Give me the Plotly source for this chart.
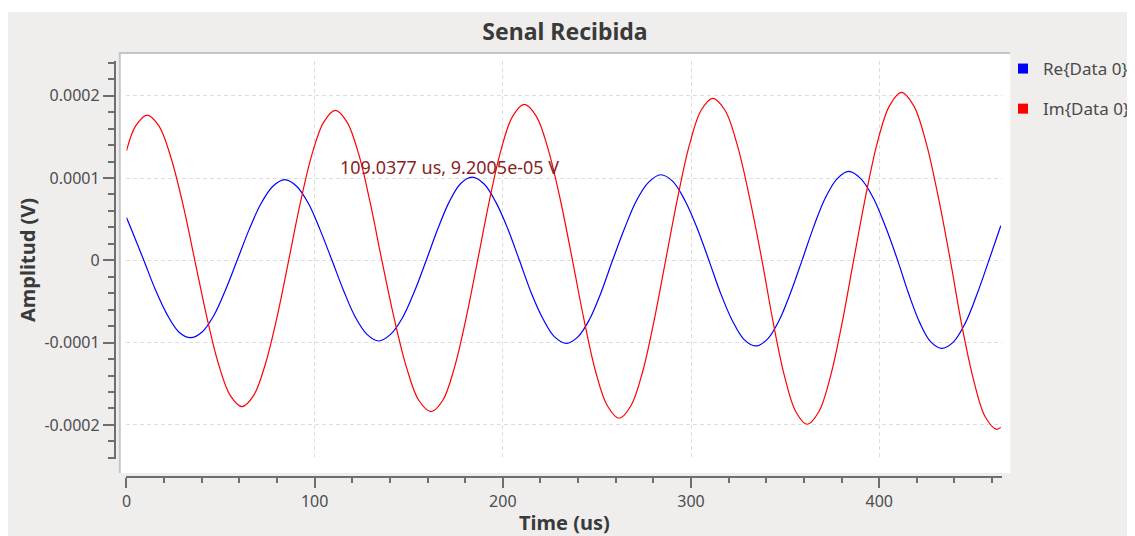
import plotly.graph_objects as go

# The page body has an 8px margin, so the figure is 8px smaller and all
# reference pixel positions are shifted by 8px.
OFF = 8
W, H = 1135 - OFF, 536 - OFF
FONT = "Noto Sans"


def px(x):
    return (x - OFF) / W


def py(y):
    return 1 - (y - OFF) / H


# ---- data (amplitudes in units of 1e-4 V) ----
time_re = [0.0, 2.9, 9.2, 15.4, 21.6, 27.8, 34.0, 40.2, 46.4, 52.6, 58.8,
           65.1, 71.5, 77.8, 84.1, 90.4, 96.7, 102.9, 109.2,
           115.4, 121.6, 127.8, 134.0, 140.3, 146.6, 153.0, 159.3,
           165.4, 171.5, 177.5, 183.6, 189.9, 196.2, 202.5, 208.8,
           215.0, 221.3, 227.5, 233.8, 239.9, 246.0, 252.2, 258.3,
           264.7, 271.1, 277.5, 283.9, 290.3, 296.7, 303.1, 309.5,
           315.7, 321.9, 328.1, 334.3, 340.5, 346.6, 352.8, 359.0,
           365.2, 371.4, 377.6, 383.8, 390.3, 396.8, 403.3, 409.8,
           415.7, 421.6, 427.4, 433.3, 439.5, 445.8, 452.0, 458.3, 464.6]
re_e4 = [0.52, 0.36, 0.0, -0.36, -0.66, -0.87, -0.94, -0.87, -0.67, -0.36, 0.0,
         0.37, 0.69, 0.90, 0.98, 0.90, 0.69, 0.37, 0.0,
         -0.37, -0.69, -0.90, -0.98, -0.90, -0.70, -0.38, 0.0,
         0.38, 0.71, 0.93, 1.01, 0.93, 0.71, 0.39, 0.0,
         -0.39, -0.71, -0.93, -1.01, -0.93, -0.72, -0.39, 0.0,
         0.39, 0.73, 0.95, 1.04, 0.96, 0.73, 0.40, 0.0,
         -0.40, -0.73, -0.96, -1.04, -0.96, -0.74, -0.40, 0.0,
         0.41, 0.76, 0.99, 1.08, 0.99, 0.76, 0.41, 0.0,
         -0.41, -0.76, -0.99, -1.07, -0.99, -0.76, -0.41, 0.0, 0.42]

time_im = [0.0, 4.8, 11.0, 17.3, 23.6, 30.0, 36.3, 42.6, 48.9, 55.1, 61.4,
           67.6, 73.8, 80.0, 86.2, 92.4, 98.6, 104.8, 111.0,
           117.2, 123.4, 129.5, 135.7, 142.2, 148.8, 155.3, 161.9,
           168.1, 174.3, 180.4, 186.6, 192.8, 199.0, 205.2, 211.4,
           217.8, 224.2, 230.6, 237.0, 243.2, 249.4, 255.6, 261.8,
           268.0, 274.2, 280.3, 286.5, 292.8, 299.0, 305.3, 311.6,
           318.1, 324.7, 331.2, 337.7, 343.7, 349.7, 355.7, 361.7,
           367.9, 374.1, 380.2, 386.4, 392.8, 399.1, 405.5, 411.8,
           418.3, 424.8, 431.3, 437.8, 443.9, 450.1, 456.3, 462.4, 464.6]
im_e4 = [1.33, 1.63, 1.765, 1.63, 1.25, 0.68, 0.0, -0.68, -1.26, -1.64, -1.777,
         -1.64, -1.26, -0.69, 0.0, 0.70, 1.29, 1.68, 1.822,
         1.68, 1.29, 0.70, 0.0, -0.70, -1.30, -1.70, -1.838,
         -1.70, -1.30, -0.71, 0.0, 0.72, 1.34, 1.75, 1.895,
         1.75, 1.34, 0.73, 0.0, -0.73, -1.36, -1.77, -1.919,
         -1.77, -1.36, -0.74, 0.0, 0.75, 1.39, 1.82, 1.968,
         1.82, 1.39, 0.75, 0.0, -0.76, -1.41, -1.84, -1.992,
         -1.84, -1.41, -0.77, 0.0, 0.78, 1.44, 1.88, 2.04,
         1.88, 1.44, 0.78, 0.0, -0.79, -1.45, -1.90, -2.053, -2.03]

series_names = ["Re{Data 0}", "Im{Data 0}"]
series_colors = ["#0000ff", "#ff0000"]

x_ticks = [0, 100, 200, 300, 400]
x_tick_labels = ["0", "100", "200", "300", "400"]
y_ticks = [-0.0002, -0.0001, 0, 0.0001, 0.0002]
y_tick_labels = ["-0.0002", "-0.0001", "0", "0.0001", "0.0002"]

title_text = "Senal Recibida"
x_title = "Time (us)"
y_title = "Amplitud (V)"
marker_text = "109.0377 us, 9.2005e-05 V"

# ---- figure ----
fig = go.Figure()

for t, vals, color in [(time_re, re_e4, series_colors[0]),
                       (time_im, im_e4, series_colors[1])]:
    fig.add_trace(go.Scatter(
        x=t, y=[v * 1e-4 for v in vals], mode="lines",
        line=dict(color=color, width=1.2, shape="spline", smoothing=1.0),
        showlegend=False, hoverinfo="skip"))

for name, color in zip(series_names, series_colors):
    fig.add_trace(go.Scatter(
        x=[None], y=[None], mode="markers", name=name, legendgroup=name,
        marker=dict(symbol="square", size=10, color=color)))

AX = "#6e6e6e"
TICKFONT = dict(family=FONT, size=16, color="#4d4d4d")

fig.update_layout(
    width=W, height=H, autosize=False,
    margin=dict(l=0, r=0, t=0, b=0),
    paper_bgcolor="white", plot_bgcolor="rgba(0,0,0,0)",
    title=dict(text=title_text, x=px(565), y=py(32), xanchor="center",
               yanchor="middle",
               font=dict(family=FONT, size=23, color="#3a3a3a", weight="bold")),
    xaxis=dict(domain=[px(126.7), px(1003.3)], range=[0, 465],
               anchor="free", position=py(477),
               showline=True, linecolor=AX, linewidth=2,
               ticks="outside", ticklen=10, tickwidth=1.5, tickcolor=AX,
               tickvals=x_ticks, ticktext=x_tick_labels, tickfont=TICKFONT,
               showgrid=True, gridcolor="#dddddd", gridwidth=1,
               griddash="4px,3px", zeroline=False, fixedrange=True,
               automargin=False,
               minor=dict(tick0=0, dtick=20, ticks="outside", ticklen=5,
                          tickwidth=1.5, tickcolor=AX, showgrid=False)),
    yaxis=dict(domain=[py(459), py(61)], range=[-2.414e-4, 2.422e-4],
               anchor="free", position=px(115),
               showline=True, linecolor=AX, linewidth=2,
               ticks="outside", ticklen=11, tickwidth=1.5, tickcolor=AX,
               tickvals=y_ticks, ticktext=y_tick_labels, tickfont=TICKFONT,
               showgrid=True, gridcolor="#dddddd", gridwidth=1,
               griddash="4px,3px", zeroline=False, fixedrange=True,
               automargin=False,
               minor=dict(tick0=0, dtick=0.00002, ticks="outside", ticklen=6,
                          tickwidth=1.5, tickcolor=AX, showgrid=False)),
    legend=dict(x=px(1005), y=py(51), xanchor="left", yanchor="top",
                bgcolor="rgba(0,0,0,0)", tracegroupgap=15,
                font=dict(family=FONT, size=17, color="#4a4a4a")),
    shapes=[
        dict(type="rect", xref="paper", yref="paper", x0=px(8), x1=1,
             y0=0, y1=py(12), fillcolor="#efeeed", line=dict(width=0),
             layer="below"),
        dict(type="rect", xref="paper", yref="paper", x0=px(119), x1=px(1012),
             y0=py(473), y1=py(52), fillcolor="white", line=dict(width=0),
             layer="below"),
        dict(type="line", xref="paper", yref="paper", x0=px(119), x1=px(1012),
             y0=py(53), y1=py(53), line=dict(color="#c6c6c6", width=2),
             layer="below"),
        dict(type="line", xref="paper", yref="paper", x0=px(120), x1=px(120),
             y0=py(473), y1=py(52), line=dict(color="#c6c6c6", width=2),
             layer="below"),
    ],
    annotations=[
        dict(text=marker_text, xref="paper", yref="paper", x=px(450),
             y=py(167), xanchor="center", yanchor="middle", showarrow=False,
             font=dict(family=FONT, size=18, color="#8b1f1f")),
        dict(text=x_title, xref="paper", yref="paper", x=px(565), y=py(522),
             xanchor="center", yanchor="middle", showarrow=False,
             font=dict(family=FONT, size=20, color="#3a3a3a", weight="bold")),
        dict(text=y_title, xref="paper", yref="paper", x=px(27), y=py(260),
             xanchor="center", yanchor="middle", showarrow=False,
             textangle=-90,
             font=dict(family=FONT, size=20, color="#3a3a3a", weight="bold")),
    ],
)

fig.write_html("out.html", config={"displayModeBar": False})
